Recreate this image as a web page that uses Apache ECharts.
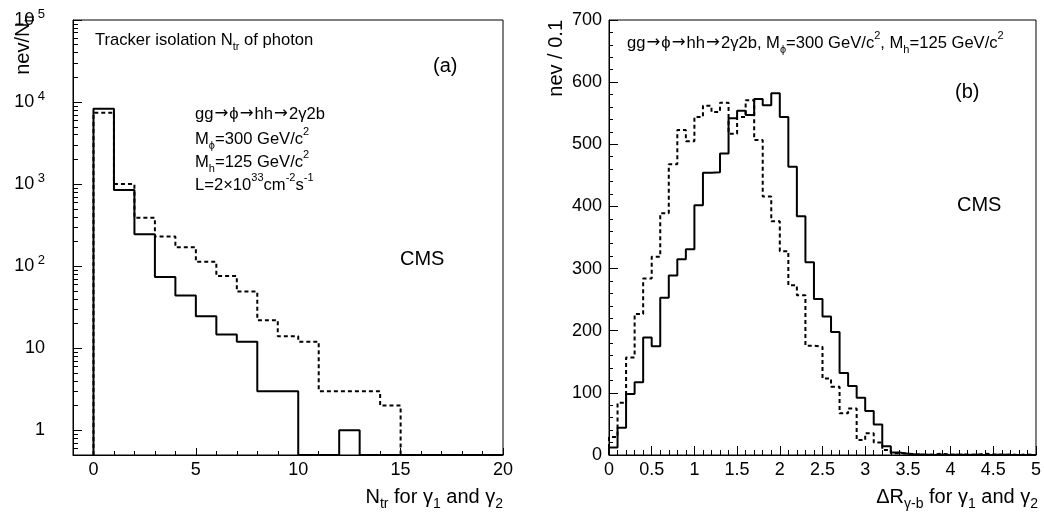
<!DOCTYPE html>
<html>
<head>
<meta charset="utf-8">
<script src="https://cdn.jsdelivr.net/npm/echarts@6/dist/echarts.min.js"></script>
<style>
html, body { margin: 0; padding: 0; background: #fff; }
#chart { width: 1044px; height: 512px; }
</style>
</head>
<body>
<div id="chart"></div>
<script>
const FONT = "'Liberation Sans', Arial, Helvetica, sans-serif";

// (a) tracker isolation, unit bins from 0 to 20
const ntrBinWidth = 1;
const ntrSolid  = [8300, 850, 245, 74, 44, 24.5, 14.7, 12, 3, 3, 0, 0, 1, 0, 0, 0, 0, 0, 0, 0];
const ntrDashed = [7400, 1000, 390, 230, 170, 113, 76, 49, 22, 14, 12, 3, 3, 3, 2, 0, 0, 0, 0, 0];
const ntrLabelTicks = [0, 5, 10, 15, 20];
const logLabelTicks = [1, 10, 100, 1000, 10000, 100000];

// (b) delta R, bins of 0.1 from 0 to 5
const drBinWidth = 0.1;
const drSolid = [12, 44, 98, 117, 189, 175, 253, 289, 315, 331,
                 402, 454, 455, 485, 542, 554, 547, 573, 563, 582,
                 544, 464, 384, 310, 251, 223, 198, 132, 111, 92,
                 71, 49, 14, 4, 2, 1, 1, 0, 1, 0,
                 1, 0, 1, 0, 0, 1, 0, 0, 0, 0];
const drDashed = [29, 84, 157, 227, 284, 319, 389, 468, 523, 505,
                  544, 562, 552, 567, 517, 544, 571, 507, 416, 376,
                  328, 273, 257, 176, 174, 123, 110, 67, 75, 24,
                  35, 20, 8, 3, 2, 1, 0, 1, 2, 1,
                  0, 1, 0, 2, 1, 0, 1, 0, 1, 0];

const Y_LOG_MIN = 0.5;

// minor ticks of the log axis: 2..9 in every decade
const logMinorTicks = [];
for (let d = -1; d <= 4; d++) {
  for (let k = 2; k <= 9; k++) {
    const v = k * Math.pow(10, d);
    if (v > Y_LOG_MIN && v < 100000) logMinorTicks.push(v);
  }
}

// histogram outline: points at the left bin edges, drawn with step 'end'
function stepData(values, width, floor) {
  const pts = [[0, floor]];
  values.forEach((v, i) => pts.push([i * width, Math.max(v, floor)]));
  pts.push([values.length * width, floor]);
  return pts;
}

function rich(size) {
  const small = Math.round(size * 0.68);
  return {
    n:   { fontSize: size,  lineHeight: size + 8, fontFamily: FONT, fill: '#000', color: '#000' },
    ar:  { fontSize: size,  lineHeight: size + 8, fontFamily: "'DejaVu Sans', sans-serif", fill: '#000', color: '#000', padding: [0, 1, 0, 1] },
    sub: { fontSize: small, lineHeight: small, verticalAlign: 'bottom', fontFamily: FONT, fill: '#000', color: '#000' },
    sup: { fontSize: small, lineHeight: small, verticalAlign: 'top', fontFamily: FONT, fill: '#000', color: '#000' }
  };
}

function label(text, x, y, size, opts) {
  opts = opts || {};
  return {
    type: 'text', x: x, y: y, rotation: opts.rotation || 0, silent: true,
    style: {
      text: text, rich: rich(size),
      align: opts.align || 'left', verticalAlign: 'middle'
    }
  };
}

const black = { color: '#000', width: 1 };
const tickFont = { fontSize: 18, color: '#000', fontFamily: FONT };
const reaction = '{n|gg}{ar|→}{n|ϕ}{ar|→}{n|hh}{ar|→}{n|2γ2b}';
const TXT = 16.6;

const myChart = echarts.init(document.getElementById('chart'), null, { renderer: 'canvas' });
const option = {
  animation: false,
  backgroundColor: '#fff',
  grid: [
    { left: 73, top: 20, width: 430, height: 435, show: true, borderColor: '#000', borderWidth: 1 },
    { left: 609, top: 20, width: 429, height: 435, show: true, borderColor: '#000', borderWidth: 1 }
  ],
  xAxis: [
    {
      gridIndex: 0, type: 'value', min: -1, max: 20, interval: 1,
      axisLine: { show: true, onZero: false, lineStyle: black },
      axisTick: { inside: true, length: 4, lineStyle: black },
      axisLabel: Object.assign({ customValues: ntrLabelTicks, margin: 6 }, tickFont),
      splitLine: { show: false }
    },
    {
      gridIndex: 0, type: 'value', min: -1, max: 20, position: 'bottom',
      axisLine: { show: false, onZero: false },
      axisTick: { inside: true, length: 7, customValues: ntrLabelTicks, lineStyle: black },
      axisLabel: { show: false },
      splitLine: { show: false }
    },
    {
      gridIndex: 1, type: 'value', min: 0, max: 5, interval: 0.5,
      axisLine: { show: true, onZero: false, lineStyle: black },
      axisTick: { inside: true, length: 9, lineStyle: black },
      minorTick: { show: true, splitNumber: 5, length: 5, lineStyle: black },
      axisLabel: Object.assign({ margin: 6, showMinLabel: true, showMaxLabel: true }, tickFont),
      splitLine: { show: false }
    }
  ],
  yAxis: [
    {
      gridIndex: 0, type: 'log', logBase: 10, min: Y_LOG_MIN, max: 100000,
      axisLine: { show: true, onZero: false, lineStyle: black },
      axisTick: { inside: true, length: 9, customValues: logLabelTicks, lineStyle: black },
      axisLabel: {
        customValues: logLabelTicks, margin: 28,
        formatter: function (v) {
          if (v >= 100) return '{b|10}{s| ' + Math.round(Math.log10(v)) + '}';
          return '{b|' + v + '}';
        },
        rich: {
          b: { fontSize: 18, lineHeight: 24, color: '#000', fontFamily: FONT },
          s: { fontSize: 13, lineHeight: 13, verticalAlign: 'top', color: '#000', fontFamily: FONT }
        }
      },
      splitLine: { show: false }
    },
    {
      gridIndex: 0, type: 'log', logBase: 10, min: Y_LOG_MIN, max: 100000, position: 'left',
      axisLine: { show: false, onZero: false },
      axisTick: { inside: true, length: 5, customValues: logMinorTicks, lineStyle: black },
      axisLabel: { show: false },
      splitLine: { show: false }
    },
    {
      gridIndex: 1, type: 'value', min: 0, max: 700, interval: 100,
      axisLine: { show: true, onZero: false, lineStyle: black },
      axisTick: { inside: true, length: 9, lineStyle: black },
      minorTick: { show: true, splitNumber: 5, length: 4, lineStyle: black },
      axisLabel: Object.assign({ margin: 7 }, tickFont),
      splitLine: { show: false }
    }
  ],
  series: [
    {
      name: 'ntr dashed', type: 'line', xAxisIndex: 0, yAxisIndex: 0, step: 'end',
      showSymbol: false, silent: true,
      lineStyle: { color: '#000', width: 2, type: [4, 3] },
      data: stepData(ntrDashed, ntrBinWidth, Y_LOG_MIN)
    },
    {
      name: 'ntr solid', type: 'line', xAxisIndex: 0, yAxisIndex: 0, step: 'end',
      showSymbol: false, silent: true, z: 3,
      lineStyle: { color: '#000', width: 2 },
      data: stepData(ntrSolid, ntrBinWidth, Y_LOG_MIN)
    },
    {
      name: 'dr dashed', type: 'line', xAxisIndex: 2, yAxisIndex: 2, step: 'end',
      showSymbol: false, silent: true,
      lineStyle: { color: '#000', width: 2, type: [4, 3] },
      data: stepData(drDashed, drBinWidth, 0)
    },
    {
      name: 'dr solid', type: 'line', xAxisIndex: 2, yAxisIndex: 2, step: 'end',
      showSymbol: false, silent: true, z: 3,
      lineStyle: { color: '#000', width: 2 },
      data: stepData(drSolid, drBinWidth, 0)
    }
  ],
  graphic: [
    // panel (a)
    label('{n|Tracker isolation N}{sub|tr}{n| of photon}', 95, 40, TXT),
    label('{n|(a)}', 433, 66, 20),
    label(reaction, 195, 114, TXT),
    label('{n|M}{sub|ϕ}{n|=300 GeV/c}{sup|2}', 195, 139, TXT),
    label('{n|M}{sub|h}{n|=125 GeV/c}{sup|2}', 195, 162, TXT),
    label('{n|L=2×10}{sup|33}{n|cm}{sup|-2}{n|s}{sup|-1}', 195, 185, TXT),
    label('{n|CMS}', 400, 259, 20),
    label('{n|N}{sub|tr}{n| for γ}{sub|1}{n| and γ}{sub|2}', 503, 497, 20, { align: 'right' }),
    label('{n|nev/N}{sub|tr}', 23, 14, 20, { align: 'right', rotation: Math.PI / 2 }),
    // panel (b)
    label(reaction + '{n|, M}{sub|ϕ}{n|=300 GeV/c}{sup|2}{n|, M}{sub|h}{n|=125 GeV/c}{sup|2}', 627, 43, TXT),
    label('{n|(b)}', 955, 92, 20),
    label('{n|CMS}', 957, 205, 20),
    label('{n|ΔR}{sub|γ-b}{n| for γ}{sub|1}{n| and γ}{sub|2}', 1038, 497, 20, { align: 'right' }),
    label('{n|nev / 0.1}', 556, 20, 20, { align: 'right', rotation: Math.PI / 2 })
  ]
};
myChart.setOption(option, true);
</script>
</body>
</html>
